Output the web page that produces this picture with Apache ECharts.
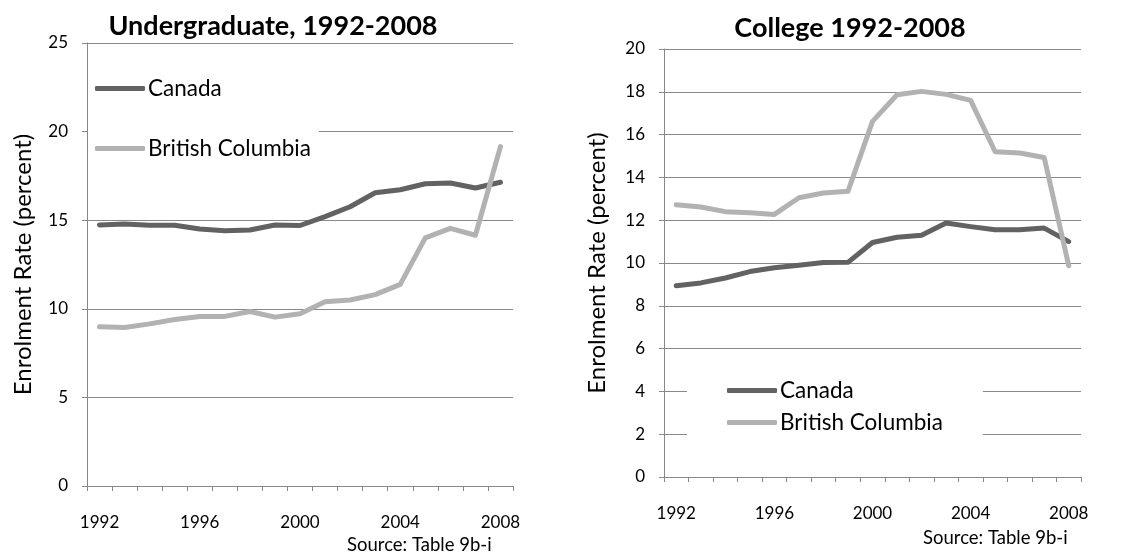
<!DOCTYPE html>
<html>
<head>
<meta charset="utf-8">
<script src="https://cdn.jsdelivr.net/npm/echarts@6/dist/echarts.min.js"></script>
<style>
  html, body { margin: 0; padding: 0; background: #fff; }
  #chart { width: 1132px; height: 556px; }
</style>
</head>
<body>
<div id="chart"></div>
<script>
// years on the x axis
const years = ['1992','1993','1994','1995','1996','1997','1998','1999','2000',
  '2001','2002','2003','2004','2005','2006','2007','2008'];

// Undergraduate, 1992-2008
const ugCanada = [14.73, 14.78, 14.72, 14.72, 14.5, 14.4, 14.45, 14.73, 14.7,
  15.2, 15.76, 16.55, 16.72, 17.06, 17.1, 16.82, 17.14];
const ugBC = [8.98, 8.95, 9.15, 9.4, 9.57, 9.57, 9.85, 9.53, 9.72,
  10.4, 10.5, 10.8, 11.38, 14.0, 14.54, 14.15, 19.15];

// College 1992-2008
const colCanada = [8.94, 9.07, 9.3, 9.6, 9.78, 9.9, 10.02, 10.03, 10.96,
  11.2, 11.3, 11.87, 11.7, 11.55, 11.55, 11.63, 11.0];
const colBC = [12.72, 12.62, 12.4, 12.35, 12.27, 13.05, 13.27, 13.35, 16.62,
  17.86, 18.02, 17.88, 17.6, 15.2, 15.14, 14.93, 9.87];

const seriesNames = ['Canada', 'British Columbia'];
const titles = ['Undergraduate, 1992-2008', 'College 1992-2008'];

const FONT = 'Lato';
const darkGray = '#626262';
const lightGray = '#b2b2b2';
const axisGray = '#888888';

const chart = echarts.init(document.getElementById('chart'));

function xAxisFor(gi) {
  return {
    type: 'category',
    gridIndex: gi,
    data: years,
    boundaryGap: true,
    axisLine: { lineStyle: { color: axisGray, width: 1 } },
    axisTick: { show: true, interval: 0, length: 5, lineStyle: { color: axisGray } },
    axisLabel: { interval: 3, margin: 28, color: '#000', fontFamily: FONT, fontSize: 17 },
    splitLine: { show: false }
  };
}

function yAxisFor(gi, max, step, gap) {
  return {
    type: 'value',
    gridIndex: gi,
    min: 0,
    max: max,
    interval: step,
    name: 'Enrolment Rate (percent)',
    nameLocation: 'middle',
    nameGap: gap,
    nameTextStyle: { color: '#000', fontFamily: FONT, fontSize: 24 },
    axisLine: { show: true, lineStyle: { color: axisGray, width: 1 } },
    axisTick: { show: true, length: 5, lineStyle: { color: axisGray } },
    axisLabel: { margin: 19, color: '#000', fontFamily: FONT, fontSize: 17 },
    splitLine: { show: true, lineStyle: { color: axisGray, width: 1 } }
  };
}

function lineSeries(name, data, color, gi) {
  return {
    name: name,
    type: 'line',
    xAxisIndex: gi,
    yAxisIndex: gi,
    data: data,
    symbol: 'none',
    color: color,
    lineStyle: { color: color, width: 5, cap: 'round', join: 'round' },
    itemStyle: { color: color },
    z: 3
  };
}

const legendBase = {
  orient: 'vertical',
  icon: 'roundRect',
  itemWidth: 50,
  itemHeight: 5,
  backgroundColor: '#fff',
  textStyle: { color: '#000', fontFamily: FONT, fontSize: 22.5, padding: [0, 0, 0, -2] },
  data: seriesNames,
  z: 10
};

const option = {
  backgroundColor: '#fff',
  animation: false,
  title: [
    { text: titles[0], left: 268, top: 8, textAlign: 'center',
      textStyle: { fontFamily: FONT, fontSize: 27, fontWeight: 'bold', color: '#000' } },
    { text: titles[1], left: 845, top: 10, textAlign: 'center',
      textStyle: { fontFamily: FONT, fontSize: 27, fontWeight: 'bold', color: '#000' } }
  ],
  legend: [
    Object.assign({}, legendBase, { left: 88, top: 63, itemGap: 37, padding: [14, 8, 14, 7] }),
    Object.assign({}, legendBase, { left: 687, top: 365, itemGap: 9, padding: [14, 40, 14, 40] })
  ],
  grid: [
    { left: 87, top: 43, width: 426, height: 443 },
    { left: 664, top: 49, width: 417, height: 428 }
  ],
  xAxis: [xAxisFor(0), xAxisFor(1)],
  yAxis: [yAxisFor(0, 25, 5, 52), yAxisFor(1, 20, 2, 55)],
  series: [
    lineSeries(seriesNames[0], ugCanada, darkGray, 0),
    lineSeries(seriesNames[1], ugBC, lightGray, 0),
    lineSeries(seriesNames[0], colCanada, darkGray, 1),
    lineSeries(seriesNames[1], colBC, lightGray, 1)
  ],
  graphic: [
    { type: 'text', left: 347, top: 536,
      style: { text: 'Source: Table 9b-i', fontFamily: FONT, fontSize: 18.5, fill: '#000' } },
    { type: 'text', left: 923, top: 529,
      style: { text: 'Source: Table 9b-i', fontFamily: FONT, fontSize: 18.5, fill: '#000' } }
  ]
};

chart.setOption(option);
window.addEventListener('resize', function () {
  chart.resize();
});
</script>
</body>
</html>
